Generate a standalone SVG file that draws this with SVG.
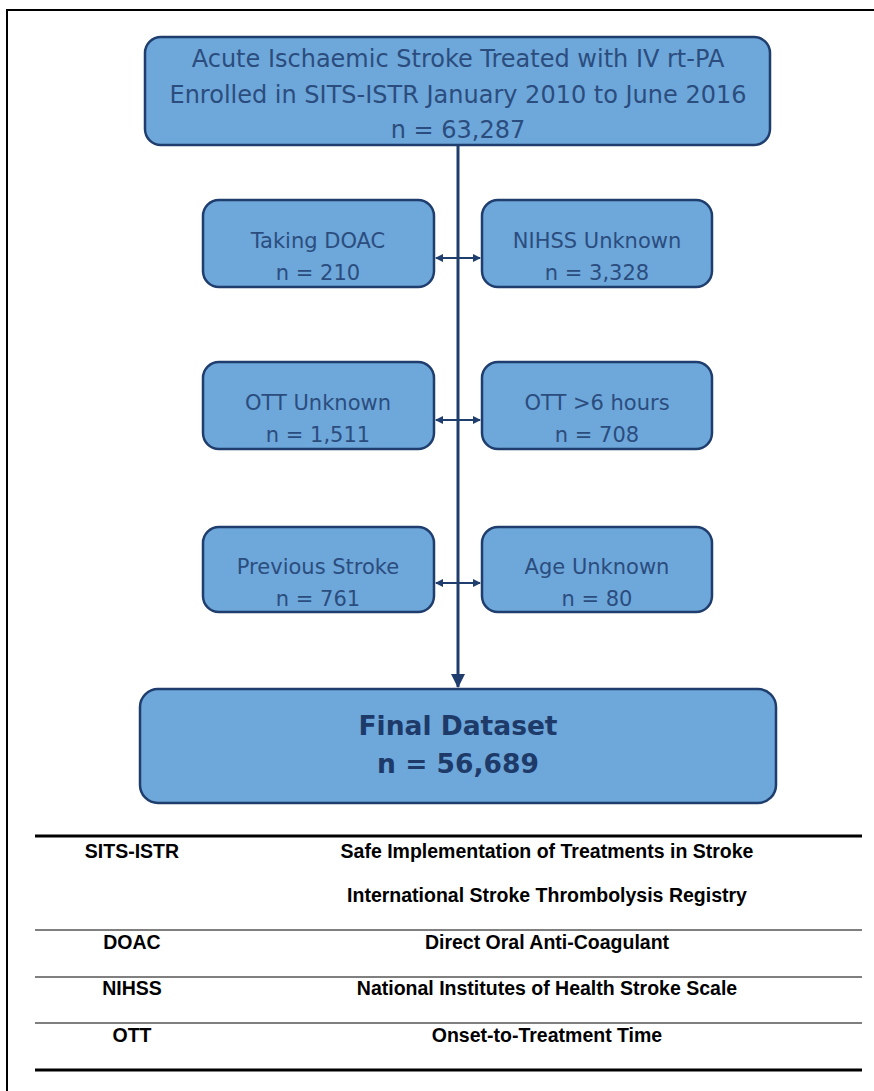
<svg xmlns="http://www.w3.org/2000/svg" width="874" height="1091" viewBox="0 0 874 1091">
<defs>
<style>
.box{fill:#6ea7da;stroke:#1f3e6e;stroke-width:2.5}
.t{font-family:"DejaVu Sans",Verdana,sans-serif;font-size:21px;fill:#2b4d7e;text-anchor:middle}
.tt{font-family:"DejaVu Sans",Verdana,sans-serif;font-size:24px;fill:#2b4d7e;text-anchor:middle}
.tb{font-family:"DejaVu Sans",Verdana,sans-serif;font-size:26.5px;font-weight:bold;fill:#1d3a69;text-anchor:middle}
.tab{font-family:"Liberation Sans",Arial,sans-serif;font-size:19.5px;font-weight:bold;fill:#000;text-anchor:middle}
.conn{stroke:#1f3e6e;stroke-width:3;fill:none}
.harr{stroke:#1f3e6e;stroke-width:2;fill:none}
</style>
<marker id="ah" markerWidth="8" markerHeight="8" refX="7" refY="4" orient="auto-start-reverse" markerUnits="userSpaceOnUse">
<path d="M0,0 L8,4 L0,8 Z" fill="#1f3e6e"/>
</marker>
<marker id="ahv" markerWidth="14" markerHeight="14" refX="13" refY="7" orient="auto" markerUnits="userSpaceOnUse">
<path d="M0,0 L14,7 L0,14 Z" fill="#1f3e6e"/>
</marker>
</defs>
<rect x="0" y="0" width="874" height="1091" fill="#fff"/>
<path d="M7,1091 V10 H874" stroke="#000" stroke-width="2" fill="none"/>

<g id="connectors">
<line class="conn" x1="458" y1="145" x2="458" y2="687" marker-end="url(#ahv)"/>
<line class="harr" x1="436" y1="258" x2="480" y2="258" marker-start="url(#ah)" marker-end="url(#ah)"/>
<line class="harr" x1="436" y1="420" x2="480" y2="420" marker-start="url(#ah)" marker-end="url(#ah)"/>
<line class="harr" x1="436" y1="583" x2="480" y2="583" marker-start="url(#ah)" marker-end="url(#ah)"/>
</g>

<g id="top">
<rect class="box" x="145" y="37" width="625" height="108" rx="16"/>
<text class="tt" x="458" y="67">Acute Ischaemic Stroke Treated with IV rt-PA</text>
<text class="tt" x="458" y="103">Enrolled in SITS-ISTR January 2010 to June 2016</text>
<text class="tt" x="458" y="138">n = 63,287</text>
</g>

<g id="doac">
<rect class="box" x="203" y="200" width="231" height="87" rx="16"/>
<text class="t" x="318" y="248">Taking DOAC</text>
<text class="t" x="318" y="280">n = 210</text>
</g>
<g id="nihss">
<rect class="box" x="482" y="200" width="230" height="87" rx="16"/>
<text class="t" x="597" y="248">NIHSS Unknown</text>
<text class="t" x="597" y="280">n = 3,328</text>
</g>

<g id="ottunk">
<rect class="box" x="203" y="362" width="231" height="87" rx="16"/>
<text class="t" x="318" y="410">OTT Unknown</text>
<text class="t" x="318" y="442">n = 1,511</text>
</g>
<g id="ott6">
<rect class="box" x="482" y="362" width="230" height="87" rx="16"/>
<text class="t" x="597" y="410">OTT &gt;6 hours</text>
<text class="t" x="597" y="442">n = 708</text>
</g>

<g id="prev">
<rect class="box" x="203" y="527" width="231" height="85" rx="16"/>
<text class="t" x="318" y="574">Previous Stroke</text>
<text class="t" x="318" y="606">n = 761</text>
</g>
<g id="age">
<rect class="box" x="482" y="527" width="230" height="85" rx="16"/>
<text class="t" x="597" y="574">Age Unknown</text>
<text class="t" x="597" y="606">n = 80</text>
</g>

<g id="final">
<rect class="box" x="140" y="689" width="636" height="114" rx="18"/>
<text class="tb" x="458" y="735">Final Dataset</text>
<text class="tb" x="458" y="773">n = 56,689</text>
</g>

<g id="table">
<line x1="35" y1="836" x2="862" y2="836" stroke="#000" stroke-width="3"/>
<line x1="35" y1="930" x2="862" y2="930" stroke="#000" stroke-width="1"/>
<line x1="35" y1="977" x2="862" y2="977" stroke="#000" stroke-width="1"/>
<line x1="35" y1="1023" x2="862" y2="1023" stroke="#000" stroke-width="1"/>
<line x1="35" y1="1070" x2="862" y2="1070" stroke="#000" stroke-width="3"/>
<text class="tab" x="132" y="858">SITS-ISTR</text>
<text class="tab" x="547" y="858">Safe Implementation of Treatments in Stroke</text>
<text class="tab" x="547" y="902">International Stroke Thrombolysis Registry</text>
<text class="tab" x="132" y="949">DOAC</text>
<text class="tab" x="547" y="949">Direct Oral Anti-Coagulant</text>
<text class="tab" x="132" y="995">NIHSS</text>
<text class="tab" x="547" y="995">National Institutes of Health Stroke Scale</text>
<text class="tab" x="132" y="1042">OTT</text>
<text class="tab" x="547" y="1042">Onset-to-Treatment Time</text>
</g>
</svg>
